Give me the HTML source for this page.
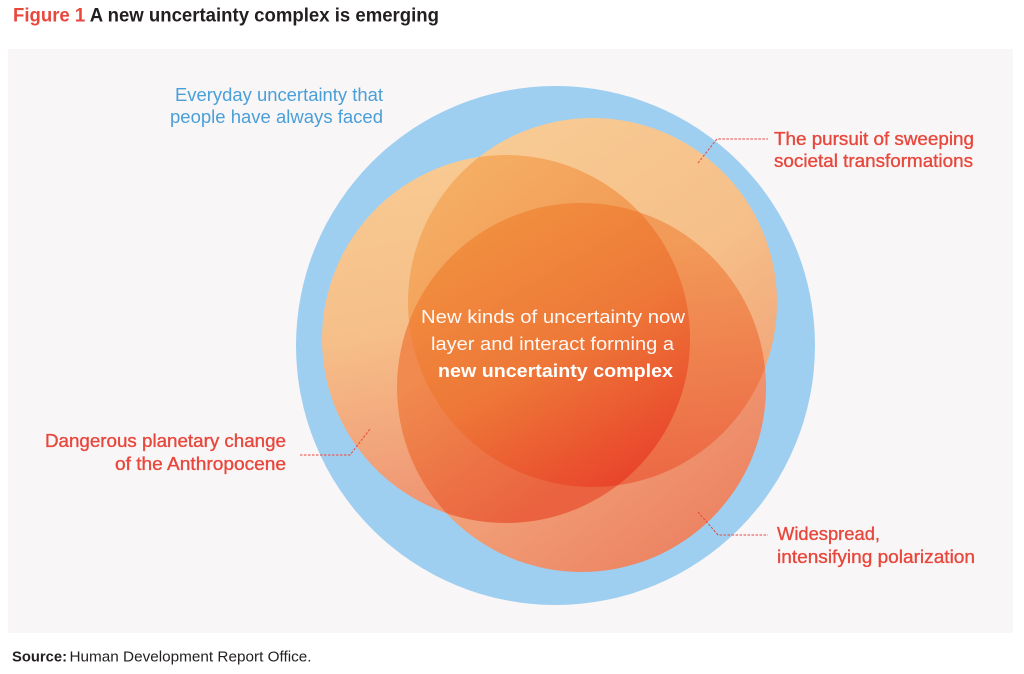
<!DOCTYPE html>
<html>
<head>
<meta charset="utf-8">
<style>
  html, body { margin: 0; padding: 0; background: #ffffff; }
  body { width: 1024px; height: 674px; overflow: hidden; }
  svg { display: block; }
  text { font-family: "Liberation Sans", Arial, sans-serif; }
</style>
</head>
<body>
<svg width="1024" height="674" viewBox="0 0 1024 674" xmlns="http://www.w3.org/2000/svg">
  <defs>
    <clipPath id="clipA"><circle cx="592.5" cy="302.5" r="184.5"/></clipPath>
    <clipPath id="clipB"><circle cx="506" cy="339" r="184"/></clipPath>
    <clipPath id="clipC"><circle cx="581.5" cy="387.5" r="184.5"/></clipPath>

    <linearGradient id="gA" gradientUnits="userSpaceOnUse" x1="520" y1="120" x2="760" y2="470">
      <stop offset="0" stop-color="#f8cb94"/>
      <stop offset="0.5" stop-color="#f6bf89"/>
      <stop offset="1" stop-color="#ef9a72"/>
    </linearGradient>
    <linearGradient id="gB" gradientUnits="userSpaceOnUse" x1="400" y1="160" x2="470" y2="520">
      <stop offset="0" stop-color="#f8ca92"/>
      <stop offset="0.45" stop-color="#f6bf89"/>
      <stop offset="1" stop-color="#ef9070"/>
    </linearGradient>
    <linearGradient id="gC" gradientUnits="userSpaceOnUse" x1="480" y1="300" x2="690" y2="570">
      <stop offset="0" stop-color="#f4b282"/>
      <stop offset="0.5" stop-color="#f19e77"/>
      <stop offset="1" stop-color="#ec805f"/>
    </linearGradient>
    <linearGradient id="gAB" gradientUnits="userSpaceOnUse" x1="470" y1="160" x2="560" y2="270">
      <stop offset="0" stop-color="#f5ae64"/>
      <stop offset="1" stop-color="#f29d58"/>
    </linearGradient>
    <linearGradient id="gAC" gradientUnits="userSpaceOnUse" x1="700" y1="240" x2="730" y2="470">
      <stop offset="0" stop-color="#f29a58"/>
      <stop offset="1" stop-color="#ec6945"/>
    </linearGradient>
    <linearGradient id="gBC" gradientUnits="userSpaceOnUse" x1="420" y1="380" x2="520" y2="520">
      <stop offset="0" stop-color="#f08a4e"/>
      <stop offset="1" stop-color="#ea623f"/>
    </linearGradient>
    <linearGradient id="gABC" gradientUnits="userSpaceOnUse" x1="480" y1="215" x2="640" y2="485">
      <stop offset="0" stop-color="#f1903f"/>
      <stop offset="0.5" stop-color="#ee7838"/>
      <stop offset="1" stop-color="#e8412b"/>
    </linearGradient>
  </defs>

  <!-- Title -->
  <text x="13" y="21.7" font-size="19" font-weight="bold" textLength="426" lengthAdjust="spacingAndGlyphs"><tspan fill="#e8473c">Figure 1</tspan><tspan fill="#231f20"> A new uncertainty complex is emerging</tspan></text>

  <!-- Panel -->
  <rect x="8" y="49" width="1005" height="584" fill="#f8f6f7"/>

  <!-- Blue outer circle -->
  <circle cx="555.5" cy="345.5" r="259.5" fill="#9fcff0"/>

  <!-- Single circles -->
  <circle cx="592.5" cy="302.5" r="184.5" fill="url(#gA)"/>
  <circle cx="506" cy="339" r="184" fill="url(#gB)"/>
  <circle cx="581.5" cy="387.5" r="184.5" fill="url(#gC)"/>

  <!-- Pair overlaps -->
  <circle cx="592.5" cy="302.5" r="184.5" fill="url(#gAB)" clip-path="url(#clipB)"/>
  <circle cx="592.5" cy="302.5" r="184.5" fill="url(#gAC)" clip-path="url(#clipC)"/>
  <circle cx="506" cy="339" r="184" fill="url(#gBC)" clip-path="url(#clipC)"/>

  <!-- Triple overlap -->
  <g clip-path="url(#clipA)">
    <circle cx="506" cy="339" r="184" fill="url(#gABC)" clip-path="url(#clipC)"/>
  </g>

  <!-- Leader lines -->
  <g fill="none" stroke="#e8473c" stroke-width="1" stroke-dasharray="2.5 1.5">
    <polyline points="698,163 717,139 768,139"/>
    <polyline points="698,512 718,535 768,535"/>
    <polyline points="300,455 350,455 370,429"/>
  </g>

  <!-- Blue label -->
  <g fill="#4a9fd8" font-size="18.5">
    <text x="175" y="101" textLength="208" lengthAdjust="spacingAndGlyphs">Everyday uncertainty that</text>
    <text x="170" y="123" textLength="213" lengthAdjust="spacingAndGlyphs">people have always faced</text>
  </g>

  <!-- Red labels -->
  <g fill="#e8473c" font-size="18.5" stroke="#e8473c" stroke-width="0.35">
    <text x="774" y="145" textLength="200" lengthAdjust="spacingAndGlyphs">The pursuit of sweeping</text>
    <text x="774" y="167" textLength="199" lengthAdjust="spacingAndGlyphs">societal transformations</text>
    <text x="777" y="540" textLength="103" lengthAdjust="spacingAndGlyphs">Widespread,</text>
    <text x="777" y="563" textLength="198" lengthAdjust="spacingAndGlyphs">intensifying polarization</text>
    <text x="45" y="447" textLength="241" lengthAdjust="spacingAndGlyphs">Dangerous planetary change</text>
    <text x="115" y="470" textLength="171" lengthAdjust="spacingAndGlyphs">of the Anthropocene</text>
  </g>

  <!-- Center text -->
  <g fill="#ffffff" font-size="18.5">
    <text x="421" y="323" textLength="264" lengthAdjust="spacingAndGlyphs" fill-opacity="0.95">New kinds of uncertainty now</text>
    <text x="431" y="350" textLength="243" lengthAdjust="spacingAndGlyphs" fill-opacity="0.95">layer and interact forming a</text>
    <text x="438" y="377" textLength="235" lengthAdjust="spacingAndGlyphs" font-weight="bold">new uncertainty complex</text>
  </g>

  <!-- Source -->
  <text x="12" y="661.7" font-size="15" fill="#231f20"><tspan font-weight="bold" textLength="55" lengthAdjust="spacingAndGlyphs">Source:</tspan><tspan x="69.5" textLength="242" lengthAdjust="spacingAndGlyphs">Human Development Report Office.</tspan></text>
</svg>
</body>
</html>
